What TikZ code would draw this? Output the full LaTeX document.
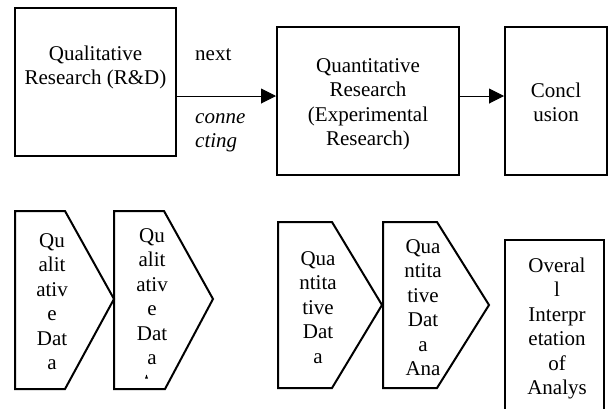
\documentclass[tikz,border=0pt]{standalone}
\usepackage{fontspec}
\setmainfont{Liberation Serif}
\usetikzlibrary{arrows.meta}
\tikzset{
  frame/.style={draw, line width=2pt, inner sep=0pt},
  txt/.style={inner sep=0pt, align=center, font=\fontsize{21}{24.5}\selectfont,
    execute at begin node=\strut, execute at end node=\strut},
  link/.style={line width=1pt, -{Triangle[length=15pt,width=15pt]}},
  chevron/.style={draw, line width=2pt, line join=miter},
}
\begin{document}
\begin{tikzpicture}[x=1pt, y=-1pt]
  \useasboundingbox (0,0) rectangle (609,408);
  \clip (0,0) rectangle (609,408);

  % top row: research stages
  \node[frame, minimum width=161pt, minimum height=148pt] (qual) at (95.5,82) {};
  \node[frame, minimum width=182pt, minimum height=148pt] (quant) at (368,101) {};
  \node[frame, minimum width=102pt, minimum height=148pt] (concl) at (556,101) {};

  \node[txt] (qualtxt) at (95.5,69) {Qualitative\\Research (R\&D)};
  \node[txt] (quanttxt) at (368,105.5) {Quantitative\\Research\\(Experimental\\Research)};
  \node[txt] (concltxt) at (556,106) {Concl\\usion};

  \coordinate (flow) at (0,96);
  \draw[link] (qual.east |- flow) -- (quant.west |- flow);
  \draw[link] (quant.east |- flow) -- (concl.west |- flow);

  \node[txt, anchor=west, align=left] (next) at (195,56) {next};
  \node[txt, anchor=west, align=left] (conn) at (195,134) {\itshape conne\\\itshape cting};

  % bottom row: analysis steps
  \draw[chevron] (15,211) -- (65,211) -- (114,299) -- (65,389) -- (15,389) -- cycle;
  \draw[chevron] (114,211) -- (164,211) -- (213,299) -- (165,389) -- (114,389) -- cycle;
  \draw[chevron] (278,222) -- (332,222) -- (382,305) -- (332,388) -- (278,388) -- cycle;
  \draw[chevron] (383,222) -- (437,222) -- (489,305) -- (437,388) -- (383,388) -- cycle;

  \node[txt] (c1) at (52,305) {Qu\\alit\\ativ\\e\\Dat\\a};
  \node[txt] (c2) at (152,300) {Qu\\alit\\ativ\\e\\Dat\\a};
  \fill (145,378.5) -- (148,378.5) -- (146.5,374.5) -- cycle;
  \node[txt] (c3) at (318,311) {Qua\\ntita\\tive\\Dat\\a};
  \node[txt] (c4) at (423,311) {Qua\\ntita\\tive\\Dat\\a\\Ana};

  \node[frame, minimum width=99pt, minimum height=200pt] (overall) at (554.5,340) {};
  \node[txt] (overalltxt) at (557,330) {Overal\\l\\Interpr\\etation\\of\\Analys};
\end{tikzpicture}
\end{document}
